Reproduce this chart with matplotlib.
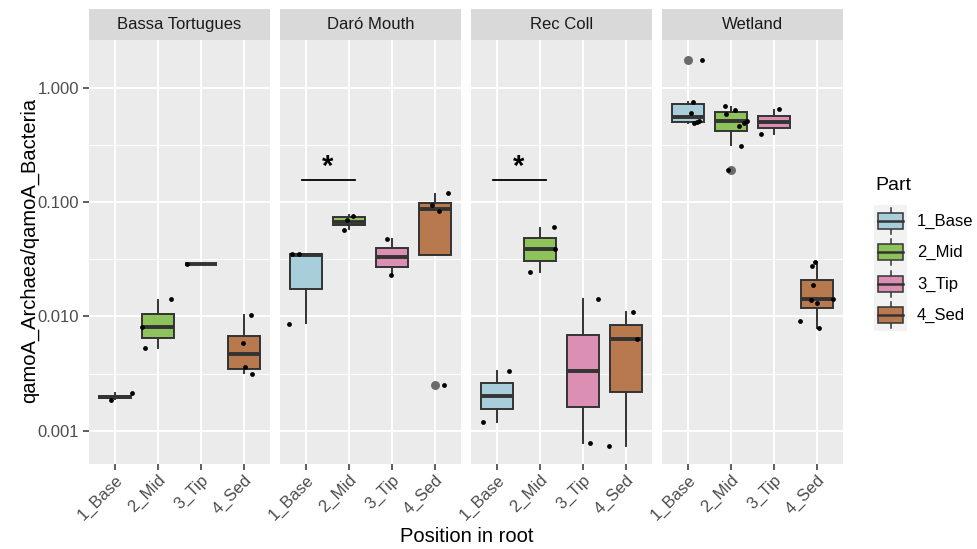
import matplotlib

matplotlib.use("Agg")
import matplotlib.pyplot as plt
from matplotlib.ticker import FixedLocator, NullFormatter
from matplotlib.patches import Rectangle

plt.rcParams["font.family"] = ["Liberation Sans", "DejaVu Sans"]

sites = ["Bassa Tortugues", "Daró Mouth", "Rec Coll", "Wetland"]
parts = ["1_Base", "2_Mid", "3_Tip", "4_Sed"]
part_colors = ["#A9CEDB", "#8DC35A", "#DB8FB2", "#B9794F"]

# box statistics: one row per site, one column per part
box_q1 = [
    [0.00192, 0.00641, 0.0289, 0.00346],
    [0.01733, 0.0625, 0.0272, 0.0346],
    [0.00155, 0.0306, 0.00160, 0.00218],
    [0.505, 0.415, 0.440, 0.01175],
]
box_med = [
    [0.00197, 0.00801, 0.0289, 0.00465],
    [0.0345, 0.0668, 0.0330, 0.0874],
    [0.00202, 0.0388, 0.00332, 0.00637],
    [0.553, 0.508, 0.504, 0.01426],
]
box_q3 = [
    [0.00201, 0.01047, 0.0289, 0.00677],
    [0.0349, 0.0734, 0.0396, 0.0986],
    [0.00262, 0.0481, 0.00686, 0.00839],
    [0.720, 0.609, 0.569, 0.0209],
]
whisk_lo = [
    [0.00188, 0.00531, 0.0289, 0.00317],
    [0.00869, 0.0584, 0.0228, 0.0346],
    [0.00120, 0.0246, 0.000783, 0.000733],
    [0.494, 0.313, 0.394, 0.00785],
]
whisk_hi = [
    [0.00212, 0.0139, 0.0289, 0.0102],
    [0.0349, 0.0769, 0.0471, 0.1175],
    [0.00334, 0.0596, 0.0141, 0.01097],
    [0.755, 0.682, 0.638, 0.0299],
]
outliers = [
    [[], [], [], []],
    [[], [], [], [0.00249]],
    [[], [], [], []],
    [[1.76], [0.192], [], []],
]

# raw samples per site: (part index, jitter, value)
pts_bassa = [(0, -0.10, 0.00185), (0, 0.39, 0.00215),
             (1, 0.30, 0.0141), (1, -0.37, 0.00800), (1, -0.30, 0.00525),
             (2, -0.33, 0.0289),
             (3, 0.16, 0.01026), (3, -0.02, 0.00587), (3, 0.01, 0.00362), (3, 0.19, 0.00311)]
pts_daro = [(0, -0.31, 0.0350), (0, -0.16, 0.0350), (0, -0.40, 0.00857),
            (1, 0.09, 0.0759), (1, -0.05, 0.0693), (1, -0.12, 0.0569),
            (2, -0.12, 0.0476), (2, -0.03, 0.0228),
            (3, 0.29, 0.120), (3, -0.07, 0.0935), (3, 0.09, 0.0834), (3, 0.21, 0.00249)]
pts_rec = [(0, 0.28, 0.00336), (0, -0.31, 0.00119),
           (1, 0.32, 0.0600), (1, 0.36, 0.0388), (1, -0.23, 0.0243),
           (2, 0.34, 0.0142), (2, 0.17, 0.00078),
           (3, 0.15, 0.0110), (3, 0.25, 0.00637), (3, -0.40, 0.000733)]
pts_wetland = [(0, 0.33, 1.76), (0, 0.12, 0.755), (0, 0.07, 0.604), (0, 0.15, 0.494),
               (0, 0.26, 0.511), (0, 0.21, 0.500),
               (1, -0.14, 0.696), (1, -0.11, 0.592), (1, 0.10, 0.638), (1, 0.18, 0.462),
               (1, 0.30, 0.494), (1, 0.38, 0.508), (1, 0.24, 0.309), (1, -0.06, 0.192),
               (2, 0.12, 0.647), (2, -0.30, 0.391),
               (3, -0.06, 0.0300), (3, -0.13, 0.0277), (3, -0.10, 0.01867), (3, -0.14, 0.0138),
               (3, 0.0, 0.01306), (3, 0.37, 0.0141), (3, -0.39, 0.00914), (3, 0.04, 0.00785)]
site_points = [pts_bassa, pts_daro, pts_rec, pts_wetland]

# significance bracket (1_Base vs 2_Mid) in Daró Mouth and Rec Coll
sig_sites = [1, 2]
sig_x = (0.91, 2.15)
sig_y = 0.155

y_ticks = [0.001, 0.01, 0.1, 1.0]
y_labels = ["0.001", "0.010", "0.100", "1.000"]

W, H = 977, 549
fig = plt.figure(figsize=(W / 100, H / 100), dpi=100)

panel_left = [89, 280, 471, 662]
panel_w = 181
top, bottom = 40, 464
strip_top = 9
edge = "#333333"


def fx(px):
    return px / W


def fy(py):
    return 1 - py / H


for i, site in enumerate(sites):
    ax = fig.add_axes([fx(panel_left[i]), fy(bottom), panel_w / W, (bottom - top) / H])
    ax.set_facecolor("#EBEBEB")
    ax.set_yscale("log")
    for s in ax.spines.values():
        s.set_visible(False)
    ax.set_axisbelow(True)

    stats = []
    for j in range(4):
        stats.append(dict(med=box_med[i][j], q1=box_q1[i][j], q3=box_q3[i][j],
                          whislo=whisk_lo[i][j], whishi=whisk_hi[i][j], fliers=[]))
    bp = ax.bxp(stats, positions=range(1, 5), widths=0.75, patch_artist=True,
                showcaps=False, showfliers=False, manage_ticks=False,
                boxprops=dict(edgecolor=edge, linewidth=1.4),
                medianprops=dict(color=edge, linewidth=2.8, solid_capstyle="butt"),
                whiskerprops=dict(color=edge, linewidth=1.4))
    for patch, c in zip(bp["boxes"], part_colors):
        patch.set_facecolor(c)

    for j in range(4):
        for v in outliers[i][j]:
            ax.scatter([j + 1], [v], s=42, color="#6A6A6A", zorder=4, linewidths=0)

    xs = [p + 1 + jit for p, jit, v in site_points[i]]
    ys = [v for p, jit, v in site_points[i]]
    ax.scatter(xs, ys, s=12, color="black", zorder=5, linewidths=0)

    if i in sig_sites:
        ax.plot(sig_x, [sig_y, sig_y], color="black", lw=1.3)
        ax.text(sum(sig_x) / 2 - 0.03, sig_y * 0.99, "*", ha="center", va="bottom",
                fontsize=21, fontweight="bold", color="black")

    ax.set_ylim(10 ** -3.291, 10 ** 0.417)
    ax.set_xlim(0.4, 4.6)
    ax.yaxis.set_major_locator(FixedLocator(y_ticks))
    ax.yaxis.set_minor_locator(FixedLocator([10 ** -2.5, 10 ** -1.5, 10 ** -0.5]))
    ax.yaxis.set_minor_formatter(NullFormatter())
    ax.set_xticks(range(1, 5))
    ax.set_xticklabels(parts, rotation=45, ha="right", rotation_mode="anchor",
                       fontsize=12, color="#4D4D4D")
    ax.grid(which="major", color="white", lw=1.4)
    ax.grid(which="minor", axis="y", color="white", lw=0.7)
    ax.tick_params(axis="x", length=4, width=1.1, color=edge, pad=2)
    ax.tick_params(axis="y", which="minor", length=0)
    if i == 0:
        ax.set_yticklabels(y_labels, fontsize=12, color="#4D4D4D")
        ax.tick_params(axis="y", which="major", length=4, width=1.1, color=edge, pad=3)
    else:
        ax.tick_params(axis="y", which="major", length=0, labelleft=False)

    sax = fig.add_axes([fx(panel_left[i]), fy(top), panel_w / W, (top - strip_top) / H])
    sax.set_facecolor("#D9D9D9")
    sax.set_xticks([])
    sax.set_yticks([])
    for s in sax.spines.values():
        s.set_visible(False)
    sax.text(0.5, 0.5, site, ha="center", va="center", fontsize=12, color="#1A1A1A",
             transform=sax.transAxes)

fig.text(fx(30), fy(250), "qamoA_Archaea/qamoA_Bacteria", rotation=90,
         ha="center", va="center", fontsize=14.5, color="black")
fig.text(fx(467), fy(537), "Position in root", ha="center", va="center",
         fontsize=14.5, color="black")

# legend with boxplot keys
fig.text(fx(875), fy(185), "Part", ha="left", va="center", fontsize=14, color="black")
lax = fig.add_axes([fx(874), fy(331), 33 / W, 126 / H])
lax.set_xlim(0, 1)
lax.set_ylim(4, 0)
lax.set_facecolor("#F2F2F2")
lax.set_xticks([])
lax.set_yticks([])
for s in lax.spines.values():
    s.set_visible(False)
for k, (lab, c) in enumerate(zip(parts, part_colors)):
    lax.plot([0.5, 0.5], [k + 0.08, k + 0.92], color=edge, lw=1.1)
    lax.add_patch(Rectangle((0.12, k + 0.25), 0.76, 0.5, facecolor=c,
                            edgecolor=edge, lw=1.1, zorder=3))
    lax.plot([0.12, 0.88], [k + 0.5, k + 0.5], color=edge, lw=1.8, zorder=4)
    fig.text(fx(917), fy(205 + 31.5 * k + 16), lab, ha="left", va="center",
             fontsize=12, color="black")

fig.savefig("out.png", dpi=100)
